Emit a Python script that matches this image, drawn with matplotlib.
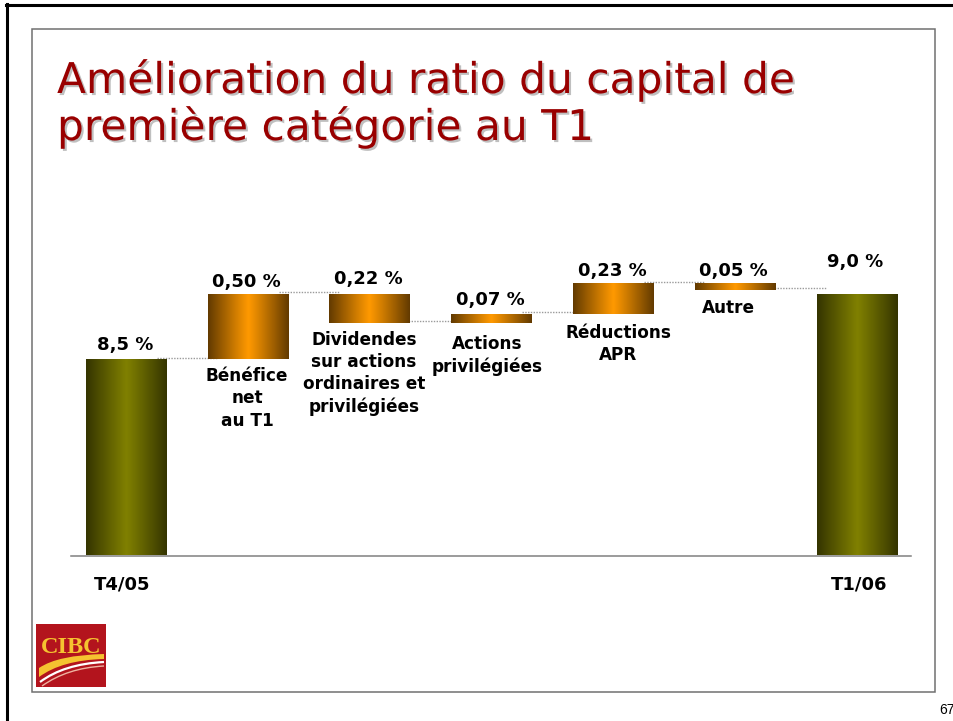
import numpy as np
import matplotlib
matplotlib.use("Agg")
import matplotlib.pyplot as plt
from matplotlib.patches import Rectangle, PathPatch
from matplotlib.path import Path
from matplotlib.lines import Line2D
import matplotlib.patheffects as pe
from matplotlib.transforms import offset_copy

# ---------------- data ----------------
title_lines = ["Amélioration du ratio du capital de", "première catégorie au T1"]
start_label = "T4/05"
end_label = "T1/06"
start_value = 8.5
end_value = 9.0
step_names = ["Bénéfice\nnet\nau T1",
              "Dividendes\nsur actions\nordinaires et\nprivilégiées",
              "Actions\nprivilégiées",
              "Réductions\nAPR",
              "Autre"]
step_values = [0.50, -0.22, 0.07, 0.23, -0.05]

# ---------------- layout / style ----------------
W, H = 954, 721
y_floor, y_top = 7.0, 9.5
bar_width = 0.665
value_label_dy = [9.6, 6.9, 9.9, 8.5, 7.4, 7.4, 27]       # px above bar top (baseline)
cat_label_dy = [8, 8.1, 12.1, 10.4, 8.7]                   # px below bar bottom (top of text)
cat_label_dx = [-1, -6, -4.6, 5, -7]
olive_dark, olive_light = np.array([52, 52, 0]) / 255, np.array([128, 128, 0]) / 255
orange_dark, orange_light = np.array([98, 58, 0]) / 255, np.array([255, 153, 0]) / 255


def fx(x):
    return x / W


def fy(y):
    return 1 - y / H


fig = plt.figure(figsize=(W / 100, H / 100), dpi=100)
fig.patch.set_facecolor("white")

# slide frames
fig.add_artist(Line2D([fx(7), fx(7)], [fy(4), 0], transform=fig.transFigure, color="black", lw=2.2))
fig.add_artist(Line2D([fx(6), 1], [fy(5), fy(5)], transform=fig.transFigure, color="black", lw=2.2))
fig.add_artist(Rectangle((fx(32), fy(692)), (935 - 32) / W, (692 - 29) / H, transform=fig.transFigure,
                         fill=False, edgecolor="#707070", lw=1.1))

# title with shadow
shadow = [pe.SimplePatchShadow(offset=(1.5, -1.5), shadow_rgbFace="#b8b8b8", alpha=0.9), pe.Normal()]
for line, base in zip(title_lines, [93, 140]):
    fig.text(fx(57), fy(base), line, fontsize=30.5, color="#990000", family="DejaVu Sans",
             va="baseline", ha="left", path_effects=shadow)

# ---------------- chart ----------------
ax = fig.add_axes([fx(71), fy(555.5), (911.5 - 71) / W, 327 / H])

levels = [start_value]
for d in step_values:
    levels.append(levels[-1] + d)

n = len(step_values) + 2
xs = np.arange(n)
bottoms = [y_floor]
heights = [start_value - y_floor]
for i, d in enumerate(step_values):
    bottoms.append(min(levels[i], levels[i + 1]))
    heights.append(abs(d))
bottoms.append(y_floor)
heights.append(end_value - y_floor)

bars = ax.bar(xs, heights, bottom=bottoms, width=bar_width, color="none", edgecolor="none", zorder=2)

t = np.linspace(0, 1, 256)
w = 1 - np.abs(2 * t - 1) ** 1.05


def grad(dark, light):
    return (dark[None, :] + (light - dark)[None, :] * w[:, None])[None, :, :]


olive_grad = grad(olive_dark, olive_light)
orange_grad = grad(orange_dark, orange_light)

for i, b in enumerate(bars):
    g = olive_grad if i in (0, n - 1) else orange_grad
    im = ax.imshow(g, extent=(b.get_x(), b.get_x() + b.get_width(), b.get_y(), b.get_y() + b.get_height()),
                   aspect="auto", interpolation="bilinear", zorder=3)
    im.set_clip_path(b)

# connectors
trans_up = offset_copy(ax.transData, fig=fig, x=0, y=1.5, units="dots")
for i, lvl in enumerate(levels):
    ax.plot([xs[i] + 0.25, xs[i + 1] - 0.25], [lvl, lvl], transform=trans_up, color="#9a9a9a",
            lw=1.0, ls=(0, (1, 1)), zorder=1)

# value labels
all_values = [start_value] + step_values + [end_value]
for i, (b, v) in enumerate(zip(bars, all_values)):
    if i in (0, n - 1):
        txt = f"{v:.1f}".replace(".", ",") + " %"
    else:
        txt = f"{abs(v):.2f}".replace(".", ",") + " %"
    top = b.get_y() + b.get_height()
    ax.annotate(txt, xy=(xs[i], top), xytext=(-1.5, value_label_dy[i]), textcoords="offset pixels",
                ha="center", va="baseline", fontsize=13, fontweight="bold", family="DejaVu Sans",
                color="black", zorder=5)

# category labels under floating bars
for k, name in enumerate(step_names):
    b = bars[k + 1]
    ax.annotate(name, xy=(xs[k + 1], b.get_y()), xytext=(cat_label_dx[k], -cat_label_dy[k]),
                textcoords="offset pixels", ha="center", va="top", multialignment="center",
                linespacing=1.3, fontsize=12.2, fontweight="bold", family="DejaVu Sans", color="black")

# period labels below axis
for xi, lab, dx in [(xs[0], start_label, -4), (xs[-1], end_label, 2)]:
    ax.annotate(lab, xy=(xi, y_floor), xytext=(dx, -29), textcoords="offset pixels",
                ha="center", va="center", fontsize=13, fontweight="bold", family="DejaVu Sans",
                color="black", annotation_clip=False)

ax.set_xlim(-0.454, 6.447)
ax.set_ylim(y_floor, y_top)
for s in ["top", "left", "right"]:
    ax.spines[s].set_visible(False)
ax.spines["bottom"].set_color("#808080")
ax.spines["bottom"].set_linewidth(1.1)
ax.set_xticks([])
ax.set_yticks([])
ax.patch.set_alpha(0)

# ---------------- CIBC logo ----------------
fig.add_artist(Rectangle((fx(36), fy(687)), 70 / W, 63 / H, transform=fig.transFigure,
                         facecolor="#b3141d", edgecolor="none"))
fig.text(fx(71.5), fy(653), "CIBC", fontsize=17.5, family="Liberation Serif", fontweight="bold",
         color="#f5c330", ha="center", va="baseline")


def P(pts):
    return [(fx(x), fy(y)) for x, y in pts]


band = Path(P([(39, 668), (58, 655), (104, 654), (104, 659), (62, 660), (39, 677), (39, 668)]),
            [Path.MOVETO, Path.CURVE3, Path.CURVE3, Path.LINETO, Path.CURVE3, Path.CURVE3, Path.CLOSEPOLY])
fig.add_artist(PathPatch(band, transform=fig.transFigure, facecolor="#f5c330", edgecolor="none"))
white = Path(P([(40, 682), (64, 664), (104, 662)]), [Path.MOVETO, Path.CURVE3, Path.CURVE3])
fig.add_artist(PathPatch(white, transform=fig.transFigure, facecolor="none", edgecolor="white", lw=1.6))
pink = Path(P([(42, 686), (67, 668), (104, 666)]), [Path.MOVETO, Path.CURVE3, Path.CURVE3])
fig.add_artist(PathPatch(pink, transform=fig.transFigure, facecolor="none", edgecolor="#eeb2a0", lw=1.0))

# page number
fig.text(fx(939), fy(710), "67", fontsize=10, family="Liberation Sans", ha="left", va="center")

fig.savefig("out.png", dpi=100, facecolor="white")
